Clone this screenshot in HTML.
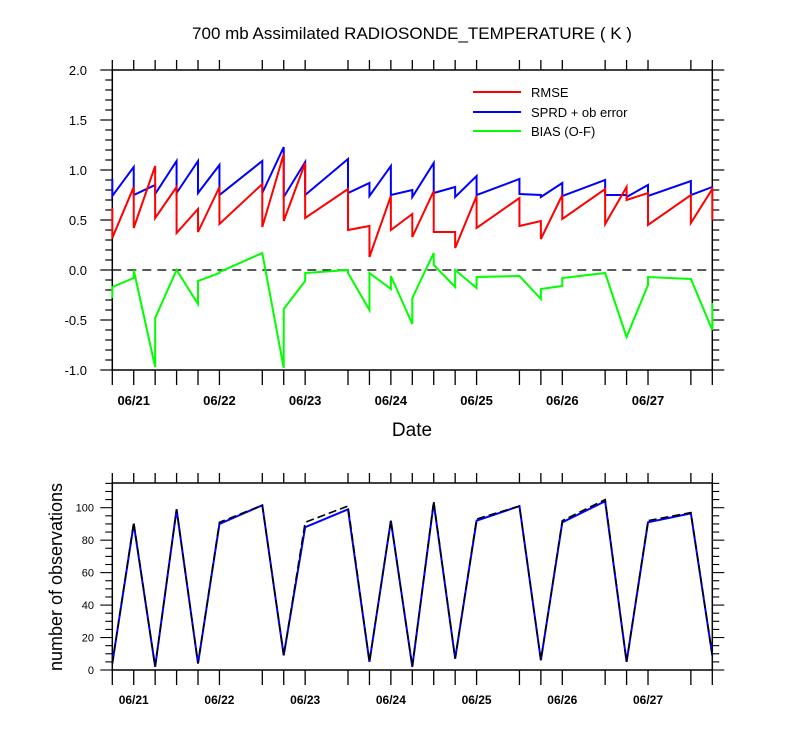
<!DOCTYPE html>
<html><head><meta charset="utf-8"><style>
body{margin:0;background:#fff}
svg{display:block;font-family:"Liberation Sans",Arial,sans-serif}
</style></head><body>
<svg id="chart" width="800" height="750" viewBox="0 0 800 750" xmlns="http://www.w3.org/2000/svg">
<rect width="800" height="750" fill="#fff"/>
<text x="412" y="39" text-anchor="middle" font-size="17">700 mb Assimilated RADIOSONDE_TEMPERATURE ( K )</text>
<text x="412" y="436" text-anchor="middle" font-size="19">Date</text>
<text transform="translate(62,577) rotate(-90)" text-anchor="middle" font-size="18">number of observations</text>
<g>
<line x1="473" y1="92" x2="521" y2="92" stroke="#f00" stroke-width="2"/>
<text x="531" y="97" font-size="13">RMSE</text>
<line x1="473" y1="112" x2="521" y2="112" stroke="#00f" stroke-width="2"/>
<text x="531" y="117" font-size="13">SPRD + ob error</text>
<line x1="473" y1="131" x2="521" y2="131" stroke="#0f0" stroke-width="2"/>
<text x="531" y="136" font-size="13">BIAS (O-F)</text>
</g>
<g id="g"></g>
</svg>
<script>
// time index in 6-hour steps from 06/20 18Z
const times = [0,1,2,3,4,5,7,8,9,11,12,13,14,15,16,17,19,20,21,23,24,25,27,28];
const rmseIn  = [0.62,0.83,1.04,0.83,0.61,0.83,0.86,1.16,1.07,0.81,0.44,0.74,0.56,0.79,0.38,0.74,0.72,0.49,0.75,0.81,0.83,0.77,0.75,0.81];
const rmseOut = [0.32,0.42,0.52,0.37,0.38,0.46,0.43,0.49,0.52,0.40,0.13,0.40,0.33,0.38,0.22,0.42,0.44,0.31,0.51,0.46,0.70,0.45,0.47,0.50];
const sprdIn  = [0.91,1.03,0.85,1.09,1.09,1.05,1.09,1.23,1.08,1.11,0.87,1.04,0.80,1.07,0.83,0.94,0.91,0.75,0.87,0.90,0.75,0.85,0.89,0.83];
const sprdOut = [0.74,0.75,0.76,0.77,0.77,0.75,0.77,0.73,0.75,0.77,0.74,0.75,0.73,0.77,0.73,0.75,0.76,0.73,0.74,0.75,0.73,0.74,0.75,0.83];
const biasIn  = [-0.28,-0.08,-0.97,0.0,-0.34,-0.03,0.17,-0.98,-0.11,0.0,-0.40,-0.19,-0.54,0.17,-0.17,-0.18,-0.06,-0.29,-0.16,-0.03,-0.67,-0.15,-0.09,-0.60];
const biasOut = [-0.17,0.0,-0.48,0.0,-0.11,-0.02,0.17,-0.39,-0.03,-0.03,-0.03,-0.06,-0.28,0.05,0.0,-0.07,-0.06,-0.19,-0.08,-0.03,-0.67,-0.07,-0.09,-0.33];
const obsPossible = [4,91,2,99,4,91,101.5,9,91,101,5,92,2,104,7,93,101,6,92,105,5,92,97,9];
const obsUsed     = [4,90,2,99,4,90,101.5,9,88,99,5,92,2,103,7,92,101,6,91,104,5,91,96.5,9];
const dayLabels = ["06/21","06/22","06/23","06/24","06/25","06/26","06/27"];
const topTicks = ["-1.0","-0.5","0.0","0.5","1.0","1.5","2.0"];
const botTicks = ["0","20","40","60","80","100"];

const NS="http://www.w3.org/2000/svg", G=document.getElementById('g');
function el(t,a){const e=document.createElementNS(NS,t);for(const k in a)e.setAttribute(k,a[k]);G.appendChild(e);return e;}
const X0=112.3,X1=712.3,NT=28;
const xs=t=>X0+(X1-X0)*t/NT;
const yT=v=>270-100*v;           // top panel: -1..2 -> 370..70
const yB=v=>670-1.623*v;          // bottom panel: 0..115 -> 670..483
const TT=70,TB=370,BT=483,BB=670;

// frames
let f=el('rect',{x:X0,y:TT,width:X1-X0,height:TB-TT,fill:'none',stroke:'#000','stroke-width':1.5});


f=el('rect',{x:X0,y:BT,width:X1-X0,height:BB-BT,fill:'none',stroke:'#000','stroke-width':1.5});



// x ticks (every data time)
times.forEach(t=>{
  const x=xs(t);
  [[TT,TT-10],[TB,TB+15],[BT,BT-10],[BB,BB+15]].forEach(p=>{
    const l=el('line',{x1:x,x2:x,y1:p[0],y2:p[1],stroke:'#000','stroke-width':1.3});
    
    
  });
});
dayLabels.forEach((d,i)=>{
  const x=xs(1+4*i);
  let t=el('text',{x:x,y:405,'text-anchor':'middle','font-size':13,'font-weight':'bold'});t.textContent=d;
  
  
  t=el('text',{x:x,y:704,'text-anchor':'middle','font-size':12,'font-weight':'bold'});t.textContent=d;
  
  
});
// top y ticks
for(let i=0;i<=30;i++){
  const v=-1+i*0.1,y=yT(v),maj=i%5===0,L=maj?12:7;
  el('line',{x1:X0,x2:X0-L,y1:y,y2:y,stroke:'#000','stroke-width':1.2});
  el('line',{x1:X1,x2:X1+L,y1:y,y2:y,stroke:'#000','stroke-width':1.2});
}
topTicks.forEach(s=>{
  const t=el('text',{x:87,y:yT(parseFloat(s))+5,'text-anchor':'end','font-size':13});t.textContent=s;
  
  
});
// bottom y ticks
for(let v=0;v<=115;v+=5){
  const y=yB(v),maj=v%20===0,L=maj?12:7;
  el('line',{x1:X0,x2:X0-L,y1:y,y2:y,stroke:'#000','stroke-width':1.1});
  el('line',{x1:X1,x2:X1+L,y1:y,y2:y,stroke:'#000','stroke-width':1.1});
}
botTicks.forEach(s=>{
  const t=el('text',{x:94,y:yB(parseFloat(s))+4,'text-anchor':'end','font-size':11});t.textContent=s;
  
  
});
// zero line
let z=el('line',{x1:X0,x2:X1,y1:yT(0),y2:yT(0),stroke:'#222','stroke-width':1.5,'stroke-dasharray':'9,6'});



function saw(a,b,col,name){
  const pts=[];
  times.forEach((t,i)=>{pts.push(xs(t)+','+yT(a[i]));pts.push(xs(t)+','+yT(b[i]));});
  const p=el('polyline',{points:pts.join(' '),fill:'none',stroke:col,'stroke-width':2});
  
  
}
saw(sprdIn,sprdOut,'#00f','sprd-line');
saw(rmseIn,rmseOut,'#f00','rmse-line');
saw(biasIn,biasOut,'#0f0','bias-line');

let p=el('polyline',{points:times.map((t,i)=>xs(t)+','+yB(obsUsed[i])).join(' '),fill:'none',stroke:'#00f','stroke-width':2});


p=el('polyline',{points:times.map((t,i)=>xs(t)+','+yB(obsPossible[i])).join(' '),fill:'none',stroke:'#000','stroke-width':1.6,'stroke-dasharray':'8,4'});


</script>
</body></html>
